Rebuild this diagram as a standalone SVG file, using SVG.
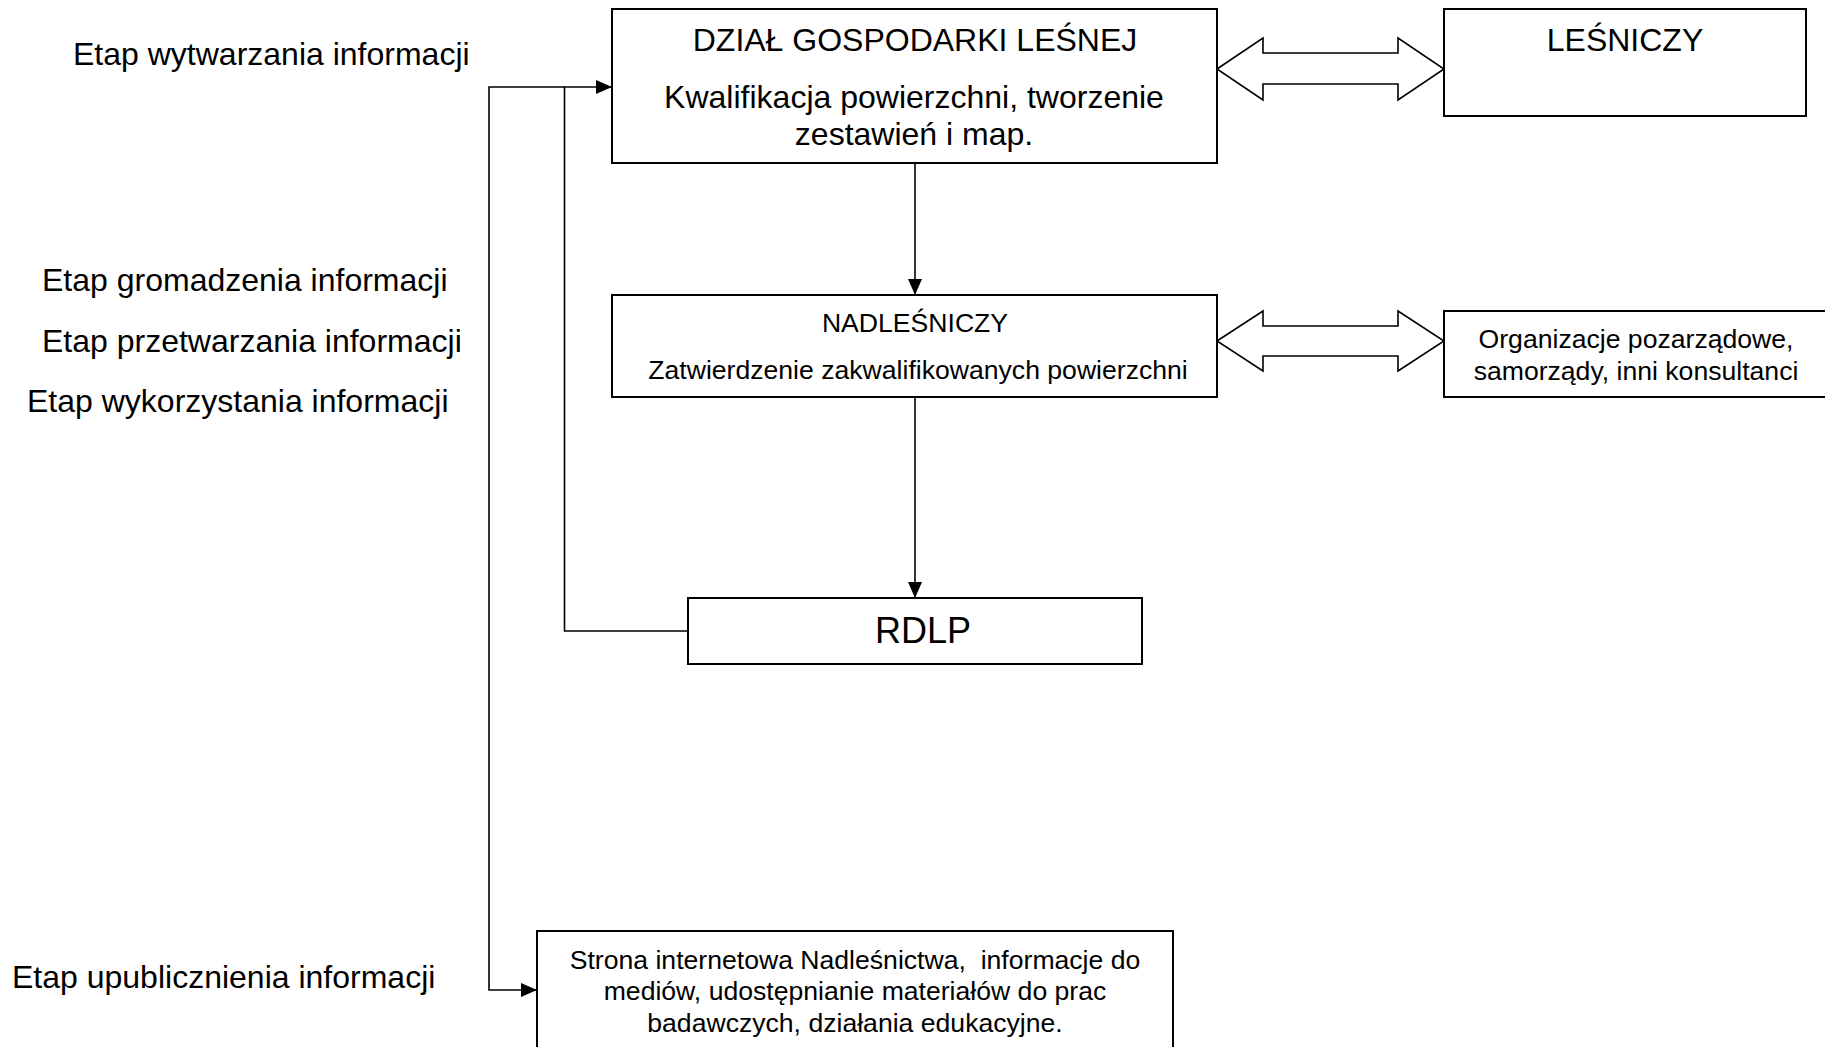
<svg xmlns="http://www.w3.org/2000/svg" width="1825" height="1047" viewBox="0 0 1825 1047">
<style>
  text { font-family: "Liberation Sans", Arial, sans-serif; fill: #000; }
  .box { fill: #fff; stroke: #000; stroke-width: 2; }
  .dbl { fill: #fff; stroke: #000; stroke-width: 1.6; stroke-linejoin: miter; }
  .conn { fill: none; stroke: #000; stroke-width: 1.6; }
  .lbl { font-size: 32px; }
  .t32 { font-size: 32px; text-anchor: middle; }
  .t26 { font-size: 26.6px; text-anchor: middle; }
  .t36 { font-size: 36px; text-anchor: middle; }
</style>
<defs>
  <marker id="ah" markerUnits="userSpaceOnUse" markerWidth="16" markerHeight="14" refX="16" refY="7" orient="auto">
    <path d="M0,0 L16,7 L0,14 z" fill="#000"/>
  </marker>
</defs>
<rect x="0" y="0" width="1825" height="1047" fill="#fff"/>

<g id="labels">
  <text class="lbl" x="73" y="65">Etap wytwarzania informacji</text>
  <text class="lbl" x="42" y="291">Etap gromadzenia informacji</text>
  <text class="lbl" x="42" y="352">Etap przetwarzania informacji</text>
  <text class="lbl" x="27" y="412">Etap wykorzystania informacji</text>
  <text class="lbl" x="12" y="988">Etap upublicznienia informacji</text>
</g>

<g id="connectors">
  <path class="conn" d="M915,163 V295" marker-end="url(#ah)"/>
  <path class="conn" d="M915,397 V598" marker-end="url(#ah)"/>
  <path class="conn" d="M688,631 H564.5 V87 H612" marker-end="url(#ah)"/>
  <path class="conn" d="M564.5,87 H489 V990 H537" marker-end="url(#ah)"/>
  <polygon class="dbl" points="1217,69 1263,38 1263,53 1398,53 1398,38 1444,69 1398,100 1398,84 1263,84 1263,100"/>
  <polygon class="dbl" points="1217,341 1263,311 1263,326 1398,326 1398,311 1444,341 1398,371 1398,356 1263,356 1263,371"/>
</g>

<g id="node-dzial">
  <rect class="box" x="612" y="9" width="605" height="154"/>
  <text class="t32" x="915" y="51">DZIAŁ GOSPODARKI LEŚNEJ</text>
  <text class="t32" x="914" y="108">Kwalifikacja powierzchni, tworzenie</text>
  <text class="t32" x="914" y="145">zestawień i map.</text>
</g>

<g id="node-lesniczy">
  <rect class="box" x="1444" y="9" width="362" height="107"/>
  <text class="t32" x="1625" y="51">LEŚNICZY</text>
</g>

<g id="node-nadlesniczy">
  <rect class="box" x="612" y="295" width="605" height="102"/>
  <text class="t26" x="915" y="332">NADLEŚNICZY</text>
  <text class="t26" x="918" y="379">Zatwierdzenie zakwalifikowanych powierzchni</text>
</g>

<g id="node-organizacje">
  <rect class="box" x="1444" y="311" width="400" height="86"/>
  <text class="t26" x="1636" y="348">Organizacje pozarządowe,</text>
  <text class="t26" x="1636" y="380">samorządy, inni konsultanci</text>
</g>

<g id="node-rdlp">
  <rect class="box" x="688" y="598" width="454" height="66"/>
  <text class="t36" x="923" y="643">RDLP</text>
</g>

<g id="node-strona">
  <rect class="box" x="537" y="931" width="636" height="140"/>
  <text class="t26" x="855" y="969" xml:space="preserve">Strona internetowa Nadleśnictwa,  informacje do</text>
  <text class="t26" x="855" y="1000">mediów, udostępnianie materiałów do prac</text>
  <text class="t26" x="855" y="1032">badawczych, działania edukacyjne.</text>
</g>
</svg>
